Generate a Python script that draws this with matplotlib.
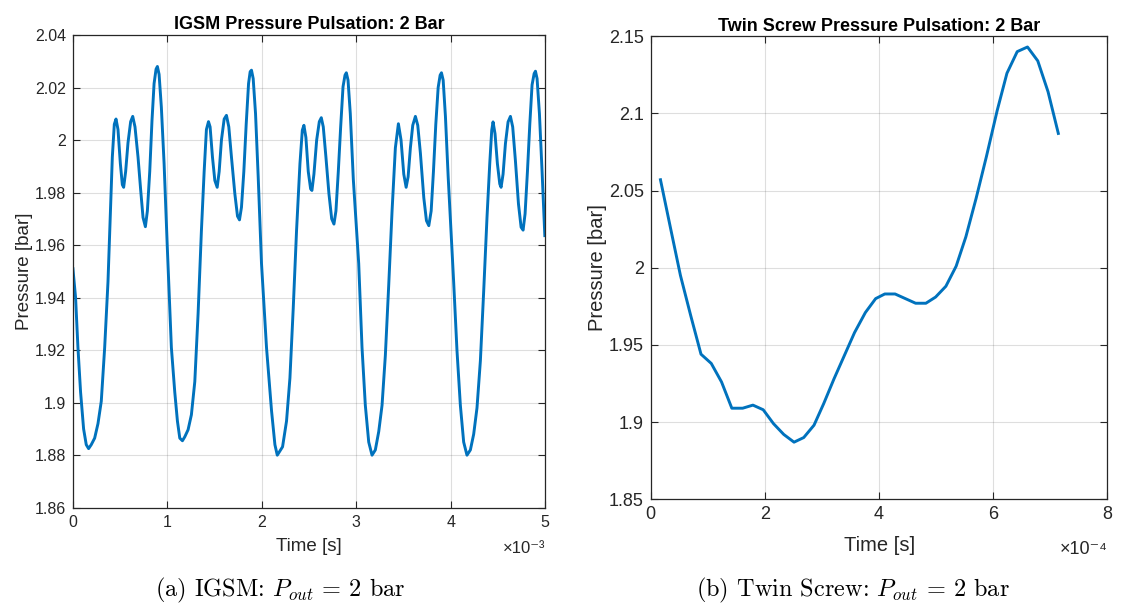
import matplotlib
matplotlib.use("Agg")
import matplotlib.pyplot as plt
from matplotlib.ticker import FuncFormatter
import numpy as np

plt.rcParams['font.family'] = ['Liberation Sans', 'DejaVu Sans']
plt.rcParams['mathtext.fontset'] = 'cm'

# IGSM: time in ms, pressure in bar
igsm_t_ms = [0.000, 0.028, 0.053, 0.081, 0.113, 0.141, 0.166, 0.194, 0.230, 0.265,
             0.300, 0.336, 0.371, 0.396, 0.417, 0.438, 0.456, 0.477, 0.502, 0.523,
             0.537, 0.558, 0.583, 0.611, 0.633, 0.657, 0.689, 0.717, 0.742, 0.767,
             0.788, 0.813, 0.837, 0.859, 0.880, 0.894, 0.912, 0.936, 0.965, 0.998,
             1.042, 1.078, 1.106, 1.131, 1.159, 1.184, 1.219, 1.254, 1.290, 1.325,
             1.360, 1.389, 1.413, 1.435, 1.452, 1.477, 1.502, 1.527, 1.548, 1.572,
             1.601, 1.625, 1.650, 1.678, 1.714, 1.742, 1.763, 1.784, 1.809, 1.834,
             1.859, 1.876, 1.890, 1.908, 1.933, 1.961, 1.996, 2.049, 2.102, 2.138,
             2.163, 2.219, 2.261, 2.297, 2.332, 2.367, 2.403, 2.428, 2.445, 2.466,
             2.491, 2.516, 2.530, 2.551, 2.580, 2.608, 2.629, 2.650, 2.678, 2.710,
             2.739, 2.763, 2.784, 2.809, 2.834, 2.859, 2.880, 2.894, 2.912, 2.936,
             2.968, 3.025, 3.060, 3.095, 3.131, 3.166, 3.201, 3.237, 3.272, 3.307,
             3.343, 3.378, 3.413, 3.445, 3.473, 3.502, 3.527, 3.548, 3.572, 3.597,
             3.625, 3.650, 3.678, 3.714, 3.742, 3.767, 3.792, 3.816, 3.841, 3.866,
             3.887, 3.901, 3.919, 3.943, 3.972, 4.030, 4.065, 4.101, 4.136, 4.171,
             4.207, 4.242, 4.277, 4.313, 4.348, 4.383, 4.412, 4.433, 4.447, 4.468,
             4.493, 4.518, 4.532, 4.553, 4.578, 4.606, 4.631, 4.655, 4.684, 4.716,
             4.744, 4.765, 4.786, 4.811, 4.836, 4.860, 4.882, 4.896, 4.913, 4.938,
             4.966, 4.995]
igsm_p = [1.951, 1.940, 1.921, 1.904, 1.890, 1.884, 1.8825, 1.884, 1.8865, 1.892,
          1.9005, 1.921, 1.946, 1.972, 1.9935, 2.006, 2.008, 2.004, 1.991, 1.983,
          1.982, 1.988, 1.999, 2.007, 2.009, 2.005, 1.9935, 1.981, 1.9705, 1.967,
          1.973, 1.988, 2.0075, 2.0215, 2.027, 2.028, 2.025, 2.0125, 1.991, 1.960,
          1.921, 1.904, 1.893, 1.8865, 1.8855, 1.887, 1.8897, 1.8954, 1.908, 1.934,
          1.9655, 1.988, 2.004, 2.007, 2.005, 1.9935, 1.9846, 1.982, 1.988, 2.000,
          2.008, 2.0094, 2.005, 1.9935, 1.9795, 1.971, 1.9696, 1.9744, 1.988, 2.006,
          2.0215, 2.026, 2.0266, 2.0234, 2.010, 1.986, 1.953, 1.921, 1.897, 1.884,
          1.880, 1.8832, 1.893, 1.9094, 1.936, 1.9655, 1.991, 2.0037, 2.0056, 2.001,
          1.988, 1.9814, 1.9808, 1.987, 2.000, 2.007, 2.0085, 2.005, 1.9935, 1.9795,
          1.970, 1.968, 1.973, 1.988, 2.005, 2.0203, 2.0247, 2.0256, 2.0228, 2.010,
          1.985, 1.953, 1.921, 1.899, 1.885, 1.880, 1.882, 1.889, 1.899, 1.918,
          1.945, 1.973, 1.997, 2.0062, 2.000, 1.987, 1.982, 1.986, 1.997, 2.0056,
          2.009, 2.0056, 1.995, 1.978, 1.9693, 1.9674, 1.973, 1.988, 2.006, 2.020,
          2.0247, 2.0256, 2.0228, 2.009, 1.986, 1.946, 1.920, 1.899, 1.885, 1.880,
          1.882, 1.888, 1.898, 1.916, 1.9425, 1.9706, 1.991, 2.0037, 2.0069, 2.0024,
          1.991, 1.9833, 1.982, 1.987, 1.9986, 2.0069, 2.009, 2.005, 1.992, 1.9757,
          1.9668, 1.9657, 1.9719, 1.988, 2.006, 2.021, 2.0253, 2.0262, 2.0234, 2.010,
          1.988, 1.9636]

# Twin screw: time in units of 1e-4 s
ts_t = [0.17, 0.35, 0.52, 0.70, 0.88, 1.06, 1.24, 1.42, 1.61, 1.79,
        1.97, 2.15, 2.33, 2.51, 2.68, 2.86, 3.03, 3.21, 3.39, 3.57,
        3.76, 3.94, 4.10, 4.28, 4.46, 4.64, 4.82, 4.99, 5.17, 5.35,
        5.52, 5.70, 5.88, 6.07, 6.24, 6.42, 6.60, 6.78, 6.96, 7.14]
ts_p = [2.057, 2.025, 1.995, 1.969, 1.944, 1.938, 1.926, 1.909, 1.909, 1.911,
        1.908, 1.899, 1.892, 1.887, 1.890, 1.898, 1.912, 1.928, 1.943, 1.958,
        1.971, 1.980, 1.983, 1.983, 1.980, 1.977, 1.977, 1.981, 1.988, 2.001,
        2.020, 2.045, 2.072, 2.102, 2.126, 2.140, 2.143, 2.134, 2.114, 2.087]

line_col = '#0072BD'
edge_col = '#262626'


def matlab_style(ax, fs):
    for s in ax.spines.values():
        s.set_color(edge_col)
        s.set_linewidth(0.9)
    ax.tick_params(direction='in', top=True, right=True, length=5, width=0.8,
                   colors=edge_col, labelsize=fs, labelcolor='#262626', pad=5)
    ax.grid(True, color='#262626', alpha=0.15, linewidth=0.8)
    ax.set_axisbelow(True)


fig = plt.figure(figsize=(11.22, 6.03), dpi=100)
ax1 = fig.add_axes([0.065, 0.158, 0.421, 0.784])
ax2 = fig.add_axes([0.580, 0.172, 0.407, 0.768])

ax1.plot(np.array(igsm_t_ms) * 1e-3, igsm_p, color=line_col, lw=2.1)
ax1.set_xlim(0, 5e-3)
ax1.set_ylim(1.86, 2.04)
ax1.set_xticks(np.arange(0, 6) * 1e-3)
ax1.set_yticks(np.arange(1.86, 2.041, 0.02))
ax1.xaxis.set_major_formatter(FuncFormatter(lambda v, p: '%g' % round(v / 1e-3, 6)))
ax1.yaxis.set_major_formatter(FuncFormatter(lambda v, p: '%g' % round(v, 6)))
matlab_style(ax1, 11.5)
ax1.set_title('IGSM Pressure Pulsation: 2 Bar', fontsize=13, fontweight='bold', pad=4)
ax1.set_xlabel('Time [s]', fontsize=13.5, color='#262626', labelpad=6)
ax1.set_ylabel('Pressure [bar]', fontsize=13.5, color='#262626', labelpad=1.5)
ax1.text(1.0, -0.07, '×10⁻³', transform=ax1.transAxes, ha='right', va='top',
         fontsize=12, color='#262626')

ax2.plot(np.array(ts_t) * 1e-4, ts_p, color=line_col, lw=2.1)
ax2.set_xlim(0, 8e-4)
ax2.set_ylim(1.85, 2.15)
ax2.set_xticks(np.arange(0, 9, 2) * 1e-4)
ax2.set_yticks(np.arange(1.85, 2.151, 0.05))
ax2.xaxis.set_major_formatter(FuncFormatter(lambda v, p: '%g' % round(v / 1e-4, 6)))
ax2.yaxis.set_major_formatter(FuncFormatter(lambda v, p: '%g' % round(v, 6)))
matlab_style(ax2, 13)
ax2.set_title('Twin Screw Pressure Pulsation: 2 Bar', fontsize=13, fontweight='bold', pad=4)
ax2.set_xlabel('Time [s]', fontsize=14.5, color='#262626', labelpad=9)
ax2.set_ylabel('Pressure [bar]', fontsize=14.5, color='#262626', labelpad=1)
ax2.text(1.0, -0.09, '×10⁻⁴', transform=ax2.transAxes, ha='right', va='top',
         fontsize=13, color='#262626')

cap_y = 1 - 590 / 603
fig.text(0.250, cap_y, '(a) IGSM: $P_{out}$ = 2 bar', family='cmr10',
         ha='center', va='center', fontsize=17.5)
fig.text(0.760, cap_y, '(b) Twin Screw: $P_{out}$ = 2 bar', family='cmr10',
         ha='center', va='center', fontsize=17.5)

fig.savefig('out.png', dpi=100)
